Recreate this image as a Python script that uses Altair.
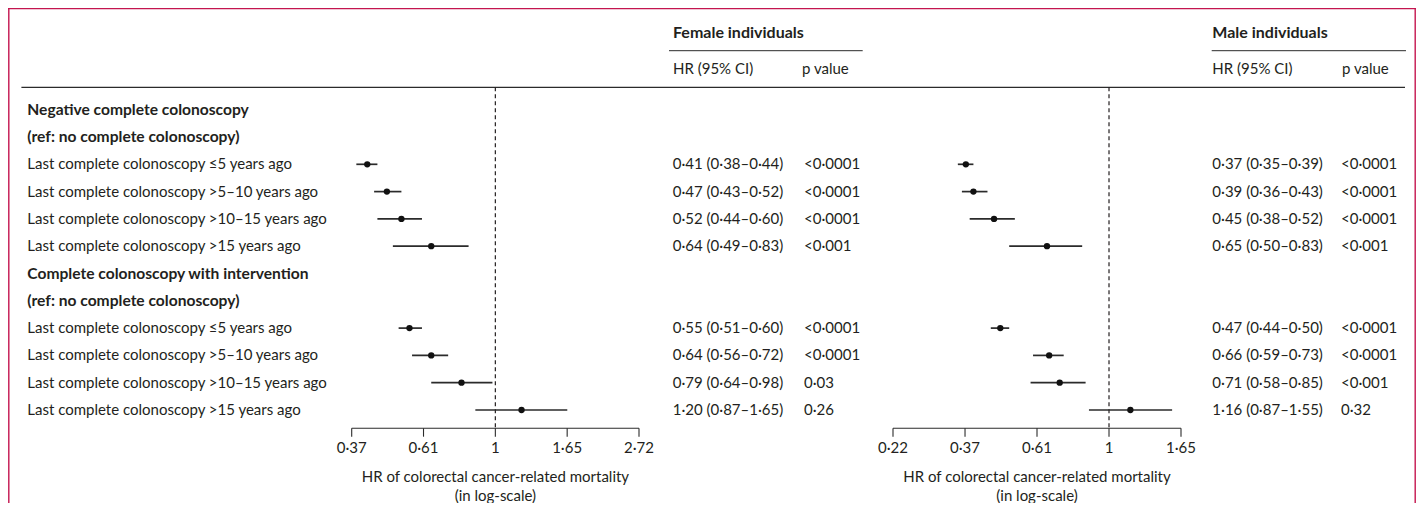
import altair as alt
import pandas as pd

# ---------------- data ----------------
row_labels = [
    "Negative complete colonoscopy",
    "(ref: no complete colonoscopy)",
    "Last complete colonoscopy ≤5 years ago",
    "Last complete colonoscopy >5–10 years ago",
    "Last complete colonoscopy >10–15 years ago",
    "Last complete colonoscopy >15 years ago",
    "Complete colonoscopy with intervention",
    "(ref: no complete colonoscopy)",
    "Last complete colonoscopy ≤5 years ago",
    "Last complete colonoscopy >5–10 years ago",
    "Last complete colonoscopy >10–15 years ago",
    "Last complete colonoscopy >15 years ago",
]
row_is_heading = [True, True, False, False, False, False, True, True, False, False, False, False]
estimate_rows = [2, 3, 4, 5, 8, 9, 10, 11]

female_hr = [0.41, 0.47, 0.52, 0.64, 0.55, 0.64, 0.79, 1.20]
female_lo = [0.38, 0.43, 0.44, 0.49, 0.51, 0.56, 0.64, 0.87]
female_hi = [0.44, 0.52, 0.60, 0.83, 0.60, 0.72, 0.98, 1.65]
female_p = ["<0·0001", "<0·0001", "<0·0001", "<0·001", "<0·0001", "<0·0001", "0·03", "0·26"]

male_hr = [0.37, 0.39, 0.45, 0.65, 0.47, 0.66, 0.71, 1.16]
male_lo = [0.35, 0.36, 0.38, 0.50, 0.44, 0.59, 0.58, 0.87]
male_hi = [0.39, 0.43, 0.52, 0.83, 0.50, 0.73, 0.85, 1.55]
male_p = ["<0·0001", "<0·0001", "<0·0001", "<0·001", "<0·0001", "<0·0001", "<0·001", "0·32"]

female_ticks = [0.3679, 0.6065, 1.0, 1.6487, 2.7183]
female_tick_labels = ["0·37", "0·61", "1", "1·65", "2·72"]
male_ticks = [0.2231, 0.3679, 0.6065, 1.0, 1.6487]
male_tick_labels = ["0·22", "0·37", "0·61", "1", "1·65"]

axis_title_1 = "HR of colorectal cancer-related mortality"
axis_title_2 = "(in log-scale)"

# ---------------- tables ----------------
def fmt(v):
    return f"{v:.2f}".replace(".", "·")

labels_df = pd.DataFrame({"row": list(range(len(row_labels))), "label": row_labels,
                          "heading": row_is_heading})

def est_df(hr, lo, hi, p):
    return pd.DataFrame({
        "row": estimate_rows, "hr": hr, "lo": lo, "hi": hi, "p": p,
        "txt": [f"{fmt(h)} ({fmt(l)}–{fmt(u)})" for h, l, u in zip(hr, lo, hi)],
    })

fem_df = est_df(female_hr, female_lo, female_hi, female_p)
mal_df = est_df(male_hr, male_lo, male_hi, male_p)
fem_ticks_df = pd.DataFrame({"t": female_ticks, "lab": female_tick_labels})
mal_ticks_df = pd.DataFrame({"t": male_ticks, "lab": male_tick_labels})
one = pd.DataFrame({"k": [0]})

# ---------------- styling ----------------
FONT = "Lato"
FS = 15
FSB = 15.6
INK = "#231f20"
LINE = "#2b2b2b"
FRAME = "#c4154f"
W, H = 1408, 495

yscale = alt.Scale(domain=[0, 11], range=[101.7, 402.0])
Y = alt.Y("row:Q", scale=yscale, axis=None)


def txt_layer(df, x, field, bold=False, align="left"):
    return alt.Chart(df).mark_text(
        align=align, baseline="middle", font=FONT, fontSize=FSB if bold else FS, color=INK,
        fontWeight="bold" if bold else "normal",
    ).encode(x=alt.value(x), y=Y, text=f"{field}:N")


def static_text(text, x, y, bold=False, align="left", size=None):
    return alt.Chart(one).mark_text(
        align=align, baseline="middle", font=FONT,
        fontSize=size if size else (FSB if bold else FS), color=INK,
        fontWeight="bold" if bold else "normal",
    ).encode(x=alt.value(x), y=alt.value(y), text=alt.value(text))


def hrule(x1, x2, y, color=LINE, w=1.0):
    return alt.Chart(one).mark_rule(color=color, strokeWidth=w).encode(
        x=alt.value(x1), x2=alt.value(x2), y=alt.value(y))


def vrule(x, y1, y2, color=FRAME, w=1.4):
    return alt.Chart(one).mark_rule(color=color, strokeWidth=w).encode(
        x=alt.value(x), y=alt.value(y1), y2=alt.value(y2))


def forest(df, ticks_df, domain, rng, title_x):
    xs = alt.Scale(type="log", domain=domain, range=rng, nice=False)
    dash = alt.Chart(one).mark_rule(color=INK, strokeWidth=1.2, strokeDash=[4, 3]).encode(
        x=alt.X("v:Q", scale=xs, axis=None), y=alt.value(79.3), y2=alt.value(420.3)
    ).transform_calculate(v="1")
    ci = alt.Chart(df).mark_rule(color=LINE, strokeWidth=1.7).encode(
        x=alt.X("lo:Q", scale=xs, axis=None), x2="hi:Q", y=Y)
    pt = alt.Chart(df).mark_circle(color="#111111", opacity=1, size=40).encode(
        x=alt.X("hr:Q", scale=xs, axis=None), y=Y)
    dom = alt.Chart(ticks_df).mark_rule(color=LINE, strokeWidth=1.1).encode(
        x=alt.X("min(t):Q", scale=xs, axis=None), x2="max(t):Q", y=alt.value(420.3))
    tk = alt.Chart(ticks_df).mark_rule(color=LINE, strokeWidth=1.1).encode(
        x=alt.X("t:Q", scale=xs, axis=None), y=alt.value(420.3), y2=alt.value(428.7))
    tl = alt.Chart(ticks_df).mark_text(
        align="center", baseline="middle", font=FONT, fontSize=FS, color=INK
    ).encode(x=alt.X("t:Q", scale=xs, axis=None), y=alt.value(440.3), text="lab:N")
    t1 = static_text(axis_title_1, title_x, 468.7, align="center")
    t2 = static_text(axis_title_2, title_x, 488.2, align="center")
    return alt.layer(dash, ci, pt, dom, tk, tl, t1, t2)


female = forest(fem_df, fem_ticks_df, [female_ticks[0], female_ticks[-1]], [343.7, 631.0], 487.4)
male = forest(mal_df, mal_ticks_df, [male_ticks[0], male_ticks[-1]], [885.0, 1173.0], 1029.0)

labels_bold = txt_layer(labels_df[labels_df.heading], 19.3, "label", bold=True)
labels_norm = txt_layer(labels_df[~labels_df.heading], 19.3, "label")

frame = [
    hrule(0, W, 0.6, color=FRAME, w=1.3),
    vrule(0.8, 0, H),
    vrule(W - 0.8, 0, H),
]

header = [
    static_text("Female individuals", 665.0, 25.0, bold=True, size=16),
    hrule(661.0, 854.7, 42.7),
    static_text("HR (95% CI)", 665.0, 61.0),
    static_text("p value", 794.0, 61.0),
    static_text("Male individuals", 1204.3, 25.0, bold=True, size=16),
    hrule(1203.7, 1398.0, 42.7),
    static_text("HR (95% CI)", 1204.3, 61.0),
    static_text("p value", 1334.0, 61.0),
    hrule(13.4, 1397.0, 79.3, w=1.2),
]

cols = [
    txt_layer(fem_df, 664.7, "txt"),
    txt_layer(fem_df, 796.0, "p"),
    txt_layer(mal_df, 1204.3, "txt"),
    txt_layer(mal_df, 1333.0, "p"),
]

chart = alt.layer(
    *frame, *header, labels_bold, labels_norm, *cols, female, male
).resolve_scale(x="independent").properties(
    width=W, height=H, padding=0, autosize="none"
).configure_view(stroke=None)

chart.save("out.html", embed_options={"renderer": "svg", "actions": False})
